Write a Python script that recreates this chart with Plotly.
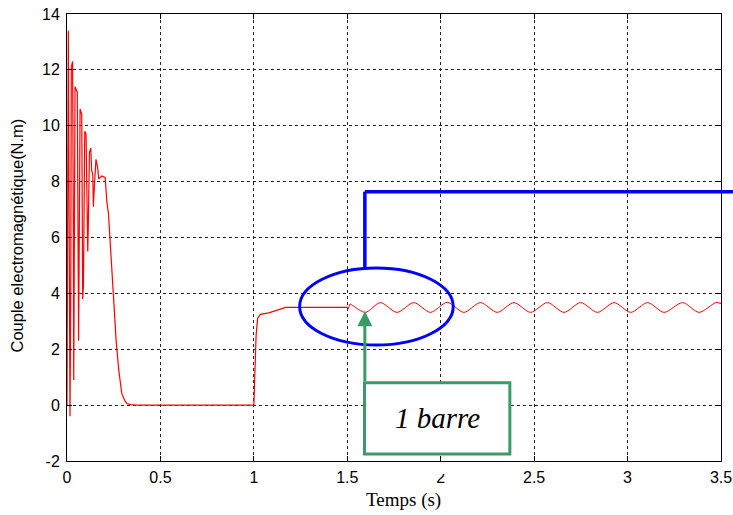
import plotly.graph_objects as go

# Startup + step segment (linear)
t_main = [0.0, 0.004, 0.007, 0.016, 0.020, 0.023, 0.030, 0.034, 0.036, 0.043, 0.048, 0.055,
          0.062, 0.066, 0.070, 0.079, 0.084, 0.088, 0.095, 0.102, 0.111, 0.114, 0.120,
          0.127, 0.132, 0.138, 0.141, 0.147, 0.155, 0.164, 0.170, 0.186, 0.204, 0.209,
          0.213, 0.222, 0.234, 0.248, 0.263, 0.277, 0.293, 0.310, 0.320, 0.340, 0.373,
          1.000, 1.005, 1.012, 1.020, 1.035, 1.080, 1.140, 1.170, 1.500]
q_main = [0.0, 8.7, 13.4, -0.4, 4.0, 12.1, 12.3, 6.0, 0.9, 11.4, 11.3, 11.2,
          2.3, 6.5, 10.6, 10.4, 3.8, 4.3, 9.8, 9.7, 5.5, 6.4, 9.05,
          9.2, 8.4, 8.25, 7.1, 7.9, 8.8, 8.5, 8.1, 8.2, 8.15, 7.7,
          7.3, 6.85, 5.4, 4.0, 2.3, 1.25, 0.42, 0.15, 0.06, 0.02, 0.0,
          0.0, 1.0, 2.5, 3.1, 3.25, 3.3, 3.45, 3.5, 3.5]

# Ripple segment after load (smooth)
t_rip = [1.500, 1.505, 1.515, 1.530, 1.597, 1.677, 1.766, 1.856, 1.945, 2.035, 2.124,
         2.213, 2.303, 2.392, 2.481, 2.571, 2.660, 2.749, 2.839, 2.928, 3.017,
         3.107, 3.196, 3.294, 3.383, 3.473, 3.500]
q_rip = [3.50, 3.45, 3.62, 3.56, 3.32, 3.67, 3.32, 3.67, 3.32, 3.68, 3.32,
         3.67, 3.32, 3.67, 3.32, 3.67, 3.32, 3.67, 3.32, 3.67, 3.32,
         3.67, 3.32, 3.67, 3.32, 3.67, 3.64]

x_ticks = [0, 0.5, 1, 1.5, 2, 2.5, 3, 3.5]
y_ticks = [-2, 0, 2, 4, 6, 8, 10, 12, 14]

GREEN = "#3a9a68"
BLUE = "#0000ff"

fig = go.Figure()
fig.add_trace(go.Scatter(x=t_main, y=q_main, mode="lines",
                         line=dict(color="red", width=1.2), showlegend=False))
fig.add_trace(go.Scatter(x=t_rip, y=q_rip, mode="lines",
                         line=dict(color="red", width=1, shape="spline", smoothing=0.8),
                         showlegend=False))

# Green arrow from box to the ripple
fig.add_annotation(x=1.594, y=3.36, ax=1.594, ay=0.8, xref="x", yref="y",
                   axref="x", ayref="y", text="", showarrow=True,
                   arrowhead=2, arrowsize=1.0, arrowwidth=3, arrowcolor=GREEN)

# Blue ellipse
fig.add_shape(type="circle", xref="x", yref="y", x0=1.245, x1=2.067, y0=2.15, y1=4.91,
              line=dict(color=BLUE, width=3))
# Blue connector
fig.add_shape(type="line", xref="x", yref="y", x0=1.594, x1=1.594, y0=4.91, y1=7.64,
              line=dict(color=BLUE, width=3.5))
fig.add_shape(type="line", xref="paper", yref="y", x0=1.594 / 3.5, x1=1.03, y0=7.64, y1=7.64,
              line=dict(color=BLUE, width=3.5))

# white cover under the box (hides top of some tick labels as in reference)
fig.add_shape(type="rect", xref="paper", yref="paper", x0=(364 - 67) / 654, x1=(510 - 67) / 654,
              y0=(461 - 474) / 447, y1=(461 - 462.5) / 447,
              line=dict(width=0), fillcolor="white", layer="above")

# Green box with text
fig.add_shape(type="rect", xref="x", yref="y", x0=1.592, x1=2.370, y0=-1.75, y1=0.80,
              line=dict(color=GREEN, width=3), fillcolor="white", layer="above")
fig.add_annotation(x=(1.592 + 2.370) / 2, y=-0.47, xref="x", yref="y", text="<i>1 barre</i>",
                   showarrow=False,
                   font=dict(family="Liberation Serif", size=29, color="black"))

# Axis titles
fig.add_annotation(x=(403 - 67) / 654, y=(461 - 500) / 447, xref="paper", yref="paper",
                   text="Temps (s)", showarrow=False, xanchor="center", yanchor="middle",
                   font=dict(family="Liberation Serif", size=19, color="black"))
fig.add_annotation(x=(16 - 67) / 654, y=(461 - 235.5) / 447, xref="paper", yref="paper",
                   text="Couple electromagnétique(N.m)", showarrow=False, textangle=-90,
                   xanchor="center", yanchor="middle",
                   font=dict(family="Liberation Sans", size=16.5, color="black"))

axis_common = dict(showline=True, linecolor="black", linewidth=1, mirror="ticks",
                   ticks="inside", ticklen=5, tickcolor="black",
                   showgrid=True, gridcolor="#222", gridwidth=1, griddash="dot",
                   zeroline=False, automargin=False,
                   tickfont=dict(family="Liberation Sans", size=16, color="black"))

fig.update_xaxes(range=[0, 3.5], tickvals=x_ticks, ticktext=[str(v) for v in x_ticks],
                 ticklabelstandoff=2, **axis_common)
fig.update_yaxes(range=[-2, 14], tickvals=y_ticks, ticktext=[str(v) for v in y_ticks],
                 ticklabelstandoff=3, **axis_common)

fig.update_layout(width=733, height=515, margin=dict(l=67, r=12, t=14, b=54),
                  plot_bgcolor="white", paper_bgcolor="white")

fig.write_html("out.html")
